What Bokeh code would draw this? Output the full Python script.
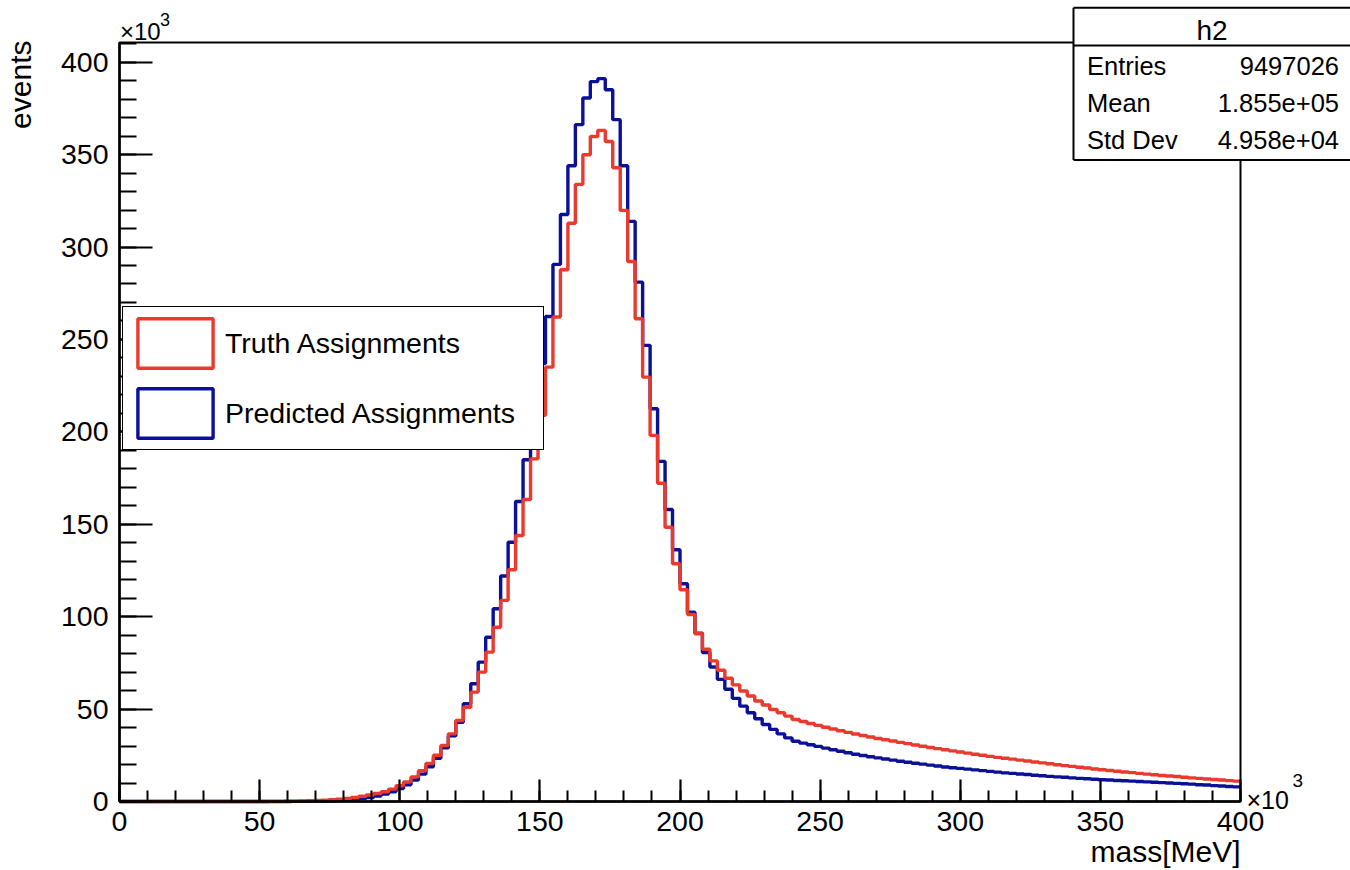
import numpy as np
from bokeh.plotting import figure
from bokeh.models import (SingleIntervalTicker, Legend, LegendItem,
                          BoxAnnotation, Label)
from bokeh.embed import file_html
from bokeh.resources import INLINE

# ---------------- data (x in 10^3 MeV, counts in 10^3 events) ----------------
N_BINS = 150
X_MIN, X_MAX = 0.0, 400.0

truth = [
    0, 0, 0, 0, 0, 0, 0, 0, 0, 0,
    0, 0, 0, 0, 0, 0, 0, 0, 0.02, 0.03,
    0.05, 0.08, 0.12, 0.18, 0.26, 0.37, 0.52, 0.72, 0.98, 1.3,
    1.7, 2.2, 2.8, 3.5, 4.3, 5.3, 6.7, 8.5, 10.6, 13.3,
    16.6, 20.6, 25.0, 30.3, 36.6, 43.8, 51.0, 59.2, 70.0, 80.8,
    94.3, 108.8, 125.4, 143.9, 163.4, 185.4, 209.0, 235.0, 262.1, 287.7,
    312.9, 333.9, 349.9, 359.8, 363.1, 357.1, 342.9, 319.8, 292.2, 261.2,
    229.6, 198.1, 172.2, 148.4, 128.6, 114.6, 101.2, 90.8, 82.4, 76.1,
    71.0, 66.7, 63.1, 59.8, 57.1, 54.4, 52.2, 49.8, 48.0, 46.2,
    44.4, 43.3, 42.2, 41.2, 40.2, 39.2, 38.3, 37.4, 36.5, 35.7,
    34.9, 34.1, 33.4, 32.7, 32.0, 31.3, 30.6, 29.9, 29.2, 28.6,
    28.0, 27.4, 26.8, 26.2, 25.6, 25.0, 24.4, 23.9, 23.4, 22.9,
    22.4, 21.9, 21.4, 20.9, 20.4, 19.9, 19.4, 19.0, 18.5, 18.1,
    17.6, 17.2, 16.8, 16.4, 16.0, 15.6, 15.2, 14.8, 14.5, 14.1,
    13.8, 13.5, 13.1, 12.8, 12.5, 12.2, 11.9, 11.6, 11.3, 11.0,
]

predicted = [
    0, 0, 0, 0, 0, 0, 0, 0, 0, 0,
    0, 0, 0, 0, 0, 0, 0, 0, 0, 0,
    0, 0, 0, 0.05, 0.08, 0.12, 0.18, 0.27, 0.40, 0.58,
    0.82, 1.15, 1.6, 2.2, 3.0, 4.0, 5.3, 7.0, 9.0, 11.6,
    14.8, 18.8, 23.4, 29.0, 35.5, 42.9, 52.9, 63.7, 75.4, 88.9,
    104.3, 122.0, 140.3, 162.3, 184.9, 210.0, 237.0, 262.4, 290.6, 317.6,
    344.0, 366.2, 380.6, 389.5, 391.1, 385.1, 368.9, 344.0, 313.9, 281.0,
    246.8, 212.5, 184.0, 158.0, 136.2, 117.8, 102.4, 91.1, 80.6, 72.8,
    66.1, 60.7, 55.8, 51.6, 48.0, 44.8, 41.7, 39.0, 36.6, 34.4,
    32.6, 31.6, 30.7, 29.8, 28.9, 28.0, 27.2, 26.4, 25.6, 24.9,
    24.2, 23.6, 23.0, 22.4, 21.8, 21.2, 20.7, 20.2, 19.7, 19.2,
    18.7, 18.3, 17.9, 17.5, 17.1, 16.7, 16.3, 15.9, 15.5, 15.2,
    14.9, 14.6, 14.2, 13.9, 13.6, 13.3, 13.1, 12.8, 12.5, 12.3,
    12.0, 11.8, 11.6, 11.4, 11.2, 11.0, 10.8, 10.6, 10.4, 10.2,
    10.0, 9.8, 9.6, 9.4, 9.1, 8.9, 8.6, 8.4, 8.1, 7.9,
]

x_ticks_interval = 50
y_ticks_interval = 50
stats_name = "h2"
stats_rows = [("Entries", "9497026"), ("Mean", "1.855e+05"), ("Std Dev", "4.958e+04")]
legend_labels = ["Truth Assignments", "Predicted Assignments"]

# ---------------- styling / geometry ----------------
FONT = "Liberation Sans"
RED = "#ea3a2d"
BLUE = "#0b1196"

W, H = 1350, 870
# pixel position of the histogram frame inside the canvas
FL, FR, FT, FB = 119, 1240, 42, 801
Y_MAX = 1.05 * max(predicted)

SX = (FR - FL) / (X_MAX - X_MIN)
SY = (FB - FT) / Y_MAX


def dx(px):
    return X_MIN + (px - FL) / SX


def dy(py):
    return (FB - py) / SY


def add_text(px, py, text, size, align="left", angle=0.0):
    p.add_layout(Label(x=dx(px), y=dy(py), text=text, text_align=align,
                       text_baseline="middle", angle=angle, text_color="black",
                       text_font=FONT, text_font_size=size))


# the Bokeh frame spans the whole canvas; the histogram frame is drawn inside
p = figure(width=W, height=H,
           x_range=(dx(0), dx(W)), y_range=(dy(H), dy(0)),
           output_backend="svg", toolbar_location=None,
           min_border_left=0, min_border_right=0,
           min_border_top=0, min_border_bottom=0,
           background_fill_color="white", border_fill_color="white")
p.grid.visible = False
p.outline_line_color = None

edges = np.linspace(X_MIN, X_MAX, N_BINS + 1)
p.step(x=edges, y=list(predicted) + [predicted[-1]], mode="after",
       line_color=BLUE, line_width=3.4)
p.step(x=edges, y=list(truth) + [truth[-1]], mode="after",
       line_color=RED, line_width=3.4)

# frame box of the histogram
p.add_layout(BoxAnnotation(left=X_MIN, right=X_MAX, bottom=0, top=Y_MAX,
                           fill_alpha=0, line_color="black", line_alpha=1,
                           line_width=2))

# axes (fixed at the frame edges)
xa, ya = p.xaxis[0], p.yaxis[0]
xa.fixed_location = 0
ya.fixed_location = X_MIN
xa.bounds = (X_MIN, X_MAX)
ya.bounds = (0, Y_MAX)
for ax, interval, tin, mtin, standoff in (
        (xa, x_ticks_interval, 22, 11, 10),
        (ya, y_ticks_interval, 33, 17, 11)):
    ax.ticker = SingleIntervalTicker(interval=interval, num_minor_ticks=5)
    ax.axis_line_width = 2.5
    ax.axis_line_color = "black"
    ax.major_tick_line_width = 2.2
    ax.minor_tick_line_width = 2
    ax.major_tick_line_color = "black"
    ax.minor_tick_line_color = "black"
    ax.major_tick_out = 0
    ax.minor_tick_out = 0
    ax.major_tick_in = tin
    ax.minor_tick_in = mtin
    ax.major_label_standoff = standoff
    ax.major_label_text_font = FONT
    ax.major_label_text_font_size = "28.5px"
    ax.major_label_text_color = "black"

# legend (empty outlined boxes, ROOT style)
r_leg_red = p.quad(left=[np.nan], right=[np.nan], top=[np.nan], bottom=[np.nan],
                   fill_alpha=0, line_color=RED, line_width=3.4)
r_leg_blue = p.quad(left=[np.nan], right=[np.nan], top=[np.nan], bottom=[np.nan],
                    fill_alpha=0, line_color=BLUE, line_width=3.4)
legend = Legend(items=[LegendItem(label=legend_labels[0], renderers=[r_leg_red]),
                       LegendItem(label=legend_labels[1], renderers=[r_leg_blue])],
                location=(122, H - 450), orientation="vertical",
                glyph_width=94, glyph_height=62, label_standoff=3,
                label_width=313, padding=5, spacing=8, margin=0,
                border_line_color="black", border_line_alpha=1, border_line_width=1.5,
                background_fill_color="white", background_fill_alpha=1,
                label_text_font=FONT, label_text_font_size="28.5px",
                label_text_color="black")
p.add_layout(legend)

# stats box: white fill (hides the frame lines), borders drawn on top
SB_L, SB_R, SB_T, SB_S, SB_B = 1073, 1400, 7.3, 45, 159.5
p.add_layout(BoxAnnotation(left=dx(SB_L), right=dx(SB_R), top=dy(SB_T), bottom=dy(SB_B),
                           fill_color="white", fill_alpha=1, line_alpha=0))
p.segment(x0=[dx(SB_L)] * 3 + [dx(SB_L)], x1=[dx(SB_R)] * 3 + [dx(SB_L)],
          y0=[dy(SB_T), dy(SB_S), dy(SB_B), dy(SB_T)],
          y1=[dy(SB_T), dy(SB_S), dy(SB_B), dy(SB_B)],
          line_color="black", line_width=2, level="overlay")
add_text(1211.5, 30, stats_name, "28px", align="center")
for i, (name, val) in enumerate(stats_rows):
    cy = 65 + i * 37.3
    add_text(1086.5, cy, name, "25.5px", align="left")
    add_text(1338.5, cy, val, "25.5px", align="right")

# axis titles and exponent labels
add_text(20, 40, "events", "30px", align="right", angle=np.pi / 2)
add_text(1240, 851, "mass[MeV]", "30px", align="right")
add_text(119.5, 31, "×10", "24px")
add_text(159.5, 19, "3", "18px")
add_text(1246, 799, "×10", "25px")
add_text(1292, 780, "3", "19px")

open("out.html", "w").write(file_html(p, INLINE))
